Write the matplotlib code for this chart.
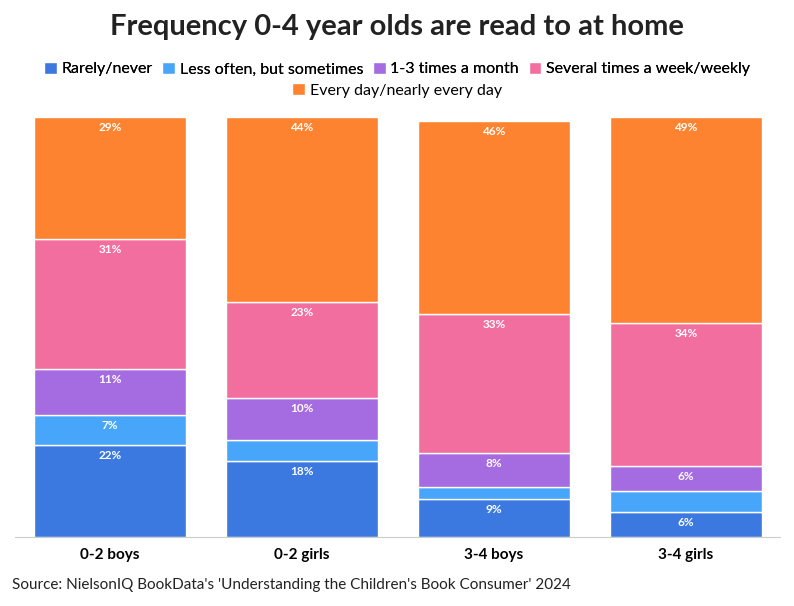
import matplotlib.pyplot as plt
import numpy as np

plt.rcParams['font.family'] = ['Lato', 'DejaVu Sans']

categories = ["0-2 boys", "0-2 girls", "3-4 boys", "3-4 girls"]
series = ["Rarely/never", "Less often, but sometimes", "1-3 times a month",
          "Several times a week/weekly", "Every day/nearly every day"]
rarely = [22, 18, 9, 6]
less_often = [7, 5, 3, 5]
monthly = [11, 10, 8, 6]
weekly = [31, 23, 33, 34]
daily = [29, 44, 46, 49]
values = [rarely, less_often, monthly, weekly, daily]
colors = ["#3b78e0", "#47a6fa", "#a56be0", "#f26e9f", "#fd8330"]

fig = plt.figure(figsize=(7.94, 6.06), dpi=100)
ax = fig.add_axes([15/794, 69/606, 765/794, 420/606])
x = np.arange(len(categories))
bottom = np.zeros(len(categories))
handles = []
for name, vals, c in zip(series, values, colors):
    vals = np.array(vals, dtype=float)
    h = ax.bar(x, vals, 0.79, bottom=bottom, color=c, edgecolor="white", linewidth=1, label=name)
    handles.append(h)
    for xi, b, v in zip(x, bottom, vals):
        if v >= 6:
            ax.text(xi, b + v - 1.2, f"{int(v)}%", ha="center", va="top",
                    color="white", fontsize=8.5, fontweight="bold")
    bottom += vals

ax.set_xlim(-0.495, 3.49)
ax.set_ylim(0, 100)
ax.set_yticks([])
ax.set_xticks(x)
ax.set_xticklabels(categories, fontsize=11, fontweight="bold")
ax.tick_params(axis="x", length=0, pad=8)
for s in ["top", "right", "left"]:
    ax.spines[s].set_visible(False)
ax.spines["bottom"].set_color("#cccccc")

fig.text(0.5, 0.955, "Frequency 0-4 year olds are read to at home", ha="center",
         va="center", fontsize=21, fontweight="bold", color="#222222")
kw = dict(frameon=False, fontsize=11.5, handlelength=0.8, handleheight=0.8,
          handletextpad=0.3, columnspacing=0.6, loc="center")
leg1 = fig.legend(handles[:4], series[:4], ncol=4, bbox_to_anchor=(0.5, 0.886), **kw)
fig.add_artist(leg1)
fig.legend(handles[4:], series[4:], ncol=1, bbox_to_anchor=(0.5, 0.851), **kw)
fig.text(12/794, 0.035, "Source: NielsonIQ BookData's 'Understanding the Children's Book Consumer' 2024",
         ha="left", va="center", fontsize=11, color="#222222")
fig.savefig("out.png", dpi=100)
